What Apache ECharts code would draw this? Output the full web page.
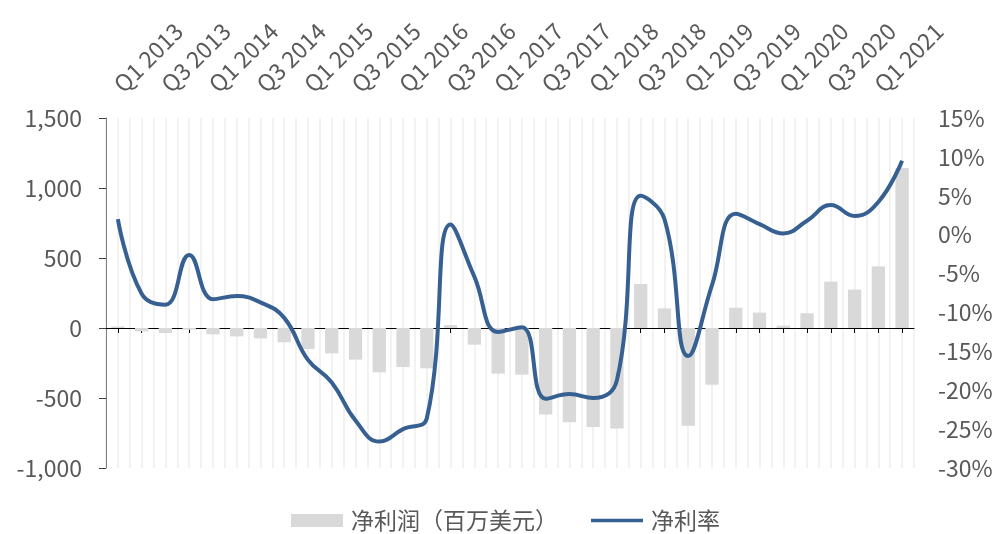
<!DOCTYPE html>
<html>
<head>
<meta charset="utf-8">
<script src="https://cdn.jsdelivr.net/npm/echarts@6/dist/echarts.min.js"></script>
<style>
  html, body { margin: 0; padding: 0; background: #ffffff; }
  #chart { width: 999px; height: 534px; }
</style>
</head>
<body>
<div id="chart"></div>
<script>
// Quarterly categories, Q1 2013 – Q2 2021
const quarters = [
  'Q1 2013','Q2 2013','Q3 2013','Q4 2013',
  'Q1 2014','Q2 2014','Q3 2014','Q4 2014',
  'Q1 2015','Q2 2015','Q3 2015','Q4 2015',
  'Q1 2016','Q2 2016','Q3 2016','Q4 2016',
  'Q1 2017','Q2 2017','Q3 2017','Q4 2017',
  'Q1 2018','Q2 2018','Q3 2018','Q4 2018',
  'Q1 2019','Q2 2019','Q3 2019','Q4 2019',
  'Q1 2020','Q2 2020','Q3 2020','Q4 2020',
  'Q1 2021','Q2 2021'
];

// 净利润 (百万美元)
const netIncome = [
  10, -24, -36, -12,
  -45, -60, -74, -102,
  -150, -181, -226, -317,
  -279, -288, 21, -119,
  -326, -333, -617, -674,
  -707, -717, 314, 140,
  -698, -405, 145, 110,
  17, 105, 331, 274,
  440, 1143
];

// 净利率 (%)
const netMargin = [
  2.0, -7.6, -9.0, -2.6,
  -8.3, -7.9, -8.7, -10.7,
  -16.1, -19.0, -23.9, -26.6,
  -25.0, -23.6, 1.3, -5.4,
  -12.5, -11.9, -21.1, -20.5,
  -21.0, -18.7, 5.0, 2.0,
  -15.6, -6.5, 2.7, 1.35,
  0.15, 1.8, 3.8, 2.4,
  4.2, 9.5
];

// Axis ranges and steps
const leftAxis = { min: -1000, max: 1500, step: 500 };
const rightAxis = { min: -30, max: 15, step: 5 };

const FONT = '"Noto Sans CJK SC", "Noto Sans", sans-serif';
const TEXT = '#595959';
const LINE_COLOR = '#376092';

// Thin bar used as the legend key for the margin line (4:1 box, stroke-thick band in the middle)
const LINE_KEY = 'path://M0,0L0,0M0,13L0,13M0,4.75L52,4.75L52,8.25L0,8.25Z';

const chart = echarts.init(document.getElementById('chart'), null, { renderer: 'canvas' });

chart.setOption({
  animation: false,
  backgroundColor: '#ffffff',
  textStyle: { fontFamily: FONT },
  grid: { left: 106, right: 85, top: 118, bottom: 66, containLabel: false },
  legend: {
    bottom: -3,
    left: 286,
    itemWidth: 52,
    itemHeight: 13,
    itemGap: 33,
    textStyle: { color: TEXT, fontSize: 23, fontFamily: FONT, padding: [0, 0, 0, 3] },
    data: [
      { name: '净利润（百万美元）', icon: 'rect' },
      { name: '净利率', icon: LINE_KEY }
    ]
  },
  xAxis: [
    {
      // quarter labels along the top
      type: 'category',
      position: 'top',
      data: quarters,
      axisLine: { show: false },
      axisTick: { show: false },
      axisLabel: {
        interval: 1,
        rotate: 45,
        margin: 30,
        color: TEXT,
        fontSize: 23,
        fontFamily: FONT
      },
      splitLine: { show: false }
    },
    {
      // baseline through zero with tick marks
      type: 'category',
      position: 'bottom',
      data: quarters,
      axisLine: { onZero: true, onZeroAxisIndex: 0, lineStyle: { color: '#000000', width: 1 } },
      axisTick: { show: true, alignWithLabel: true, interval: 0, length: 5, lineStyle: { color: '#000000' } },
      axisLabel: { show: false },
      splitLine: { show: false }
    },
    {
      // light vertical guides at category centres and boundaries
      type: 'value',
      position: 'bottom',
      min: 0,
      max: quarters.length,
      interval: 0.5,
      axisLine: { show: false },
      axisTick: { show: false },
      axisLabel: { show: false },
      splitLine: { show: true, lineStyle: { color: '#EEEEEE', width: 1.5 } }
    }
  ],
  yAxis: [
    {
      type: 'value',
      position: 'left',
      min: leftAxis.min,
      max: leftAxis.max,
      interval: leftAxis.step,
      axisLine: { show: true, lineStyle: { color: '#7F7F7F', width: 1 } },
      axisTick: { show: true, length: 7, lineStyle: { color: '#404040' } },
      axisLabel: {
        margin: 24,
        color: TEXT,
        fontSize: 23,
        fontFamily: FONT,
        formatter: v => v.toLocaleString('en-US')
      },
      splitLine: { show: false }
    },
    {
      type: 'value',
      position: 'right',
      min: rightAxis.min,
      max: rightAxis.max,
      interval: rightAxis.step,
      axisLine: { show: false },
      axisTick: { show: false },
      axisLabel: {
        margin: 24,
        color: TEXT,
        fontSize: 23,
        fontFamily: FONT,
        formatter: '{value}%'
      },
      splitLine: { show: false }
    }
  ],
  series: [
    {
      name: '净利润（百万美元）',
      type: 'bar',
      xAxisIndex: 1,
      yAxisIndex: 0,
      data: netIncome,
      barWidth: '56%',
      itemStyle: { color: '#D9D9D9' }
    },
    {
      name: '净利率',
      type: 'line',
      xAxisIndex: 1,
      yAxisIndex: 1,
      data: netMargin,
      smooth: 0.45,
      symbol: 'none',
      lineStyle: { color: LINE_COLOR, width: 4 },
      itemStyle: { color: LINE_COLOR },
      z: 5
    }
  ]
});
</script>
</body>
</html>
